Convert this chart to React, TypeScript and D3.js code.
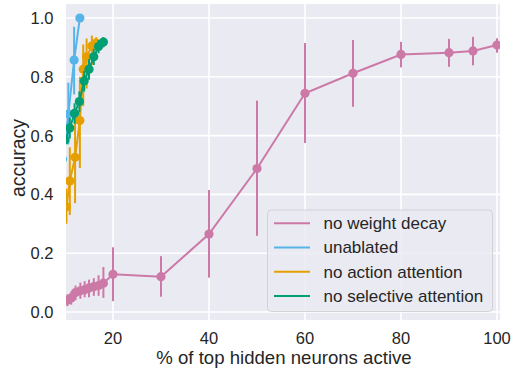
import * as d3 from "d3";

// x = % of top hidden neurons active, y = accuracy, lo/hi = error bar ends
const noWdX = [10.5, 11.3, 12.2, 13.2, 14.1, 15, 16, 17, 18, 20, 30, 40, 50, 60, 70, 80, 90, 95, 100];
const noWdY = [0.040, 0.048, 0.066, 0.072, 0.076, 0.082, 0.086, 0.090, 0.098, 0.128, 0.120, 0.265, 0.488, 0.744, 0.812, 0.876, 0.882, 0.888, 0.908];
const noWdLo = [0.02, 0.025, 0.04, 0.045, 0.05, 0.05, 0.055, 0.055, 0.048, 0.037, 0.052, 0.117, 0.259, 0.575, 0.698, 0.832, 0.834, 0.839, 0.882];
const noWdHi = [0.06, 0.07, 0.09, 0.10, 0.105, 0.11, 0.115, 0.125, 0.153, 0.22, 0.19, 0.415, 0.719, 0.915, 0.925, 0.919, 0.929, 0.936, 0.931];

const unablX = [9.5, 10.7, 11.9, 13.1];
const unablY = [0.52, 0.673, 0.857, 1.0];
const unablLo = [0.45, 0.57, 0.74, 1.0];
const unablHi = [0.6, 0.78, 0.97, 1.0];

const noActX = [10.3, 11.0, 12.1, 13.1, 13.8, 14.5, 15.6, 16.5];
const noActY = [0.358, 0.446, 0.526, 0.651, 0.826, 0.868, 0.905, 0.915];
const noActLo = [0.30, 0.33, 0.37, 0.49, 0.70, 0.76, 0.84, 0.88];
const noActHi = [0.42, 0.56, 0.68, 0.80, 0.91, 0.93, 0.94, 0.935];

const noSelX = [10, 11, 12, 13, 14, 15, 16, 17, 18];
const noSelY = [0.585, 0.626, 0.676, 0.716, 0.786, 0.826, 0.868, 0.903, 0.918];
const noSelLo = [0.55, 0.59, 0.64, 0.68, 0.75, 0.79, 0.84, 0.88, 0.90];
const noSelHi = [0.62, 0.66, 0.71, 0.75, 0.82, 0.86, 0.895, 0.925, 0.935];

const xTicks = [20, 40, 60, 80, 100];
const yTicks = [0, 0.2, 0.4, 0.6, 0.8, 1.0];

const series = [
  { name: "no weight decay", color: "#CC79A7", x: noWdX, y: noWdY, lo: noWdLo, hi: noWdHi },
  { name: "unablated", color: "#56B4E9", x: unablX, y: unablY, lo: unablLo, hi: unablHi },
  { name: "no action attention", color: "#E69F00", x: noActX, y: noActY, lo: noActLo, hi: noActHi },
  { name: "no selective attention", color: "#009E73", x: noSelX, y: noSelY, lo: noSelLo, hi: noSelHi },
];

const W = 511, H = 374;
const left = 66, right = 500, top = 4, bottom = 320;
const font = "'Liberation Sans', Arial, sans-serif";
const ink = "#262626";

export default function App() {
  const x = d3.scaleLinear().domain([10.21, 100.625]).range([left, right]);
  const y = d3.scaleLinear().domain([-0.0272, 1.0476]).range([bottom, top]);
  const line = d3.line<number>();

  return (
    <svg width={W} height={H} style={{ position: "absolute", left: 0, top: 0, background: "#fff" }}>
      <defs>
        <clipPath id="plot">
          <rect x={left} y={top} width={right - left} height={bottom - top} />
        </clipPath>
      </defs>
      <rect x={left} y={top} width={right - left} height={bottom - top} fill="#EAEAF2" />
      {xTicks.map((t) => (
        <line key={"gx" + t} x1={x(t)} x2={x(t)} y1={top} y2={bottom} stroke="#fff" strokeWidth={1.6} />
      ))}
      {yTicks.map((t) => (
        <line key={"gy" + t} x1={left} x2={right} y1={y(t)} y2={y(t)} stroke="#fff" strokeWidth={1.6} />
      ))}

      <g clipPath="url(#plot)">
        {series.map((s) => {
          const pts = s.x.map((v, i) => [x(v), y(s.y[i])] as [number, number]);
          return (
            <g key={s.name}>
              <path d={line(pts) || ""} fill="none" stroke={s.color} strokeWidth={2} />
              {s.x.map((v, i) => (
                <line key={"e" + i} x1={x(v)} x2={x(v)} y1={y(s.lo[i])} y2={y(s.hi[i])} stroke={s.color} strokeWidth={2} />
              ))}
              {pts.map((p, i) => (
                <circle key={"c" + i} cx={p[0]} cy={p[1]} r={4.6} fill={s.color} />
              ))}
            </g>
          );
        })}
      </g>

      {xTicks.map((t) => (
        <text key={"tx" + t} x={x(t)} y={344} textAnchor="middle" fontFamily={font} fontSize={16.5} fill={ink}>
          {t}
        </text>
      ))}
      {yTicks.map((t) => (
        <text key={"ty" + t} x={53.5} y={y(t)} dy="0.36em" textAnchor="end" fontFamily={font} fontSize={16.5} fill={ink}>
          {t.toFixed(1)}
        </text>
      ))}
      <text x={(left + right) / 2 + 1} y={363.5} textAnchor="middle" fontFamily={font} fontSize={18.6} fill={ink}>
        % of top hidden neurons active
      </text>
      <text transform={`translate(25, ${(top + bottom) / 2 - 4}) rotate(-90)`} textAnchor="middle" fontFamily={font} fontSize={19.5} fill={ink}>
        accuracy
      </text>

      <g>
        <rect x={267.5} y={210} width={225} height={101.5} rx={4} fill="#EAEAF2" fillOpacity={0.8} stroke="#CCCCCC" strokeOpacity={0.8} strokeWidth={1} />
        {series.map((s, i) => (
          <g key={"lg" + s.name} transform={`translate(0, ${223.3 + i * 24.2})`}>
            <line x1={274} x2={310} y1={0} y2={0} stroke={s.color} strokeWidth={2} />
            <text x={323.5} y={0} dy="0.35em" fontFamily={font} fontSize={17} fill={ink}>
              {s.name}
            </text>
          </g>
        ))}
      </g>
    </svg>
  );
}
